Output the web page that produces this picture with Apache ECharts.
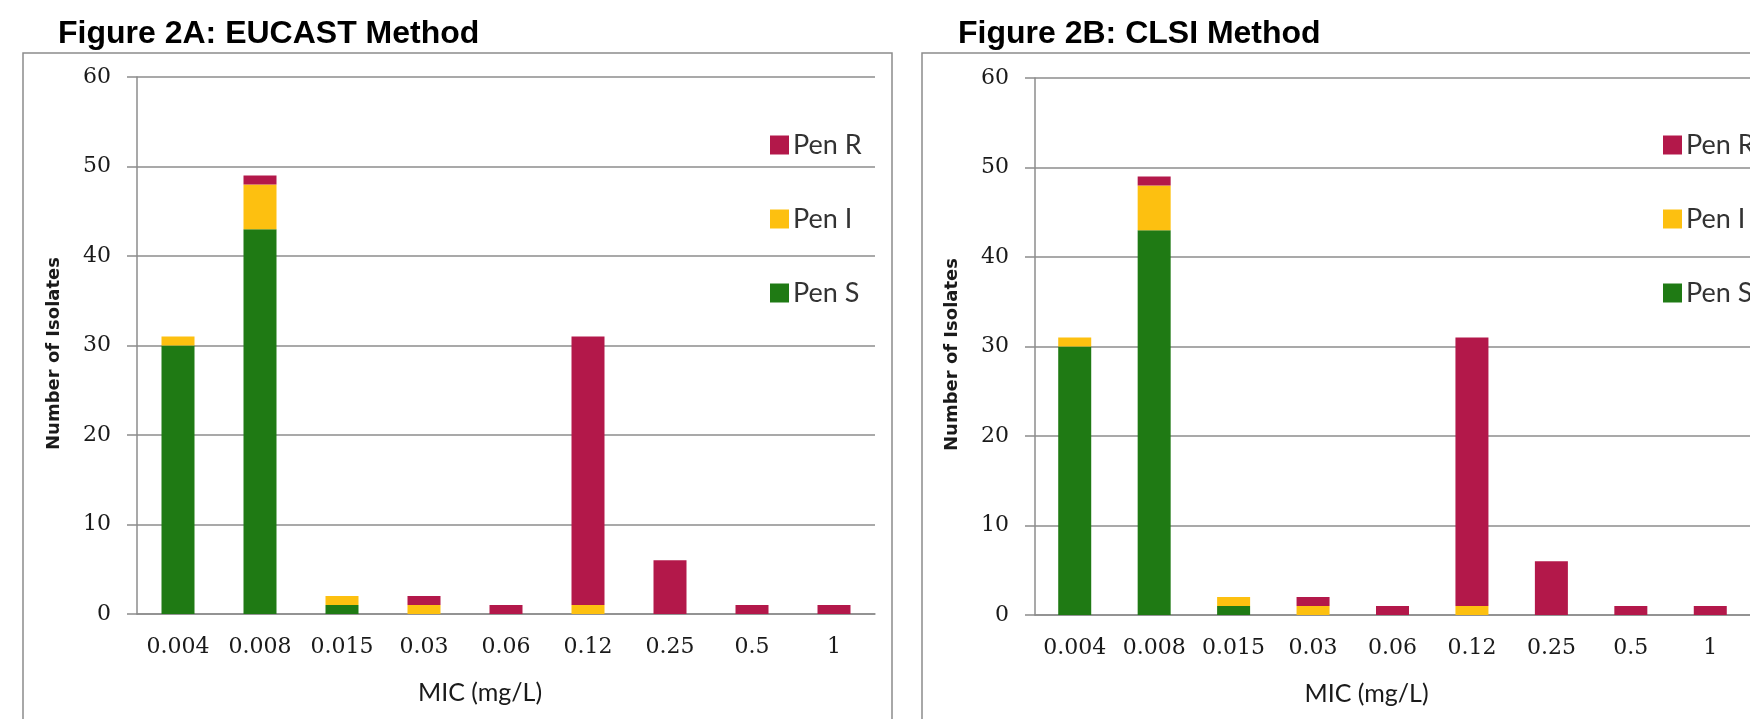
<!DOCTYPE HTML>
<html>
<head>
<meta charset="utf-8">
<title>Figure 2: MIC distribution, EUCAST vs CLSI</title>
<style type="text/css">
html,body{margin:0;padding:0;background:#fff;}
#myChart{width:1750px;height:719px;}
</style>
<script type="text/javascript" src="https://cdn.jsdelivr.net/npm/echarts@6/dist/echarts.min.js"></script>
</head>
<body>
<div id="myChart"></div>
<script type="text/javascript">
// MIC categories (mg/L)
var micLabels = ['0.004', '0.008', '0.015', '0.03', '0.06', '0.12', '0.25', '0.5', '1'];
var yTicks = [0, 10, 20, 30, 40, 50, 60];

// Figure 2A: EUCAST
var eucastS = [30, 43, 1, 0, 0, 0, 0, 0, 0];
var eucastI = [1, 5, 1, 1, 0, 1, 0, 0, 0];
var eucastR = [0, 1, 0, 1, 1, 30, 6, 1, 1];

// Figure 2B: CLSI
var clsiS = [30, 43, 1, 0, 0, 0, 0, 0, 0];
var clsiI = [1, 5, 1, 1, 0, 1, 0, 0, 0];
var clsiR = [0, 1, 0, 1, 1, 30, 6, 1, 1];

var colS = '#1f7a14', colI = '#fdc010', colR = '#b3184a';
var gray = '#8c8c8c';

function xAx(idx) {
    return {
        type: 'category', gridIndex: idx, data: micLabels,
        axisLine: {lineStyle: {color: gray, width: 1.5}},
        axisTick: {length: 9, lineStyle: {color: gray, width: 1.5}},
        axisLabel: {interval: 0, fontFamily: 'DejaVu Serif', fontSize: 22, color: '#1a1a1a', margin: 22},
        name: 'MIC (mg/L)', nameLocation: 'middle', nameGap: 66,
        nameTextStyle: {fontFamily: 'Lato', fontSize: 25, color: '#1a1a1a', padding: [0, 52, 0, 0]}
    };
}
function yAx(idx) {
    return {
        type: 'value', gridIndex: idx, min: yTicks[0], max: yTicks[yTicks.length - 1], interval: 10,
        axisLine: {show: true, lineStyle: {color: gray, width: 1.5}},
        axisTick: {show: true, length: 10, lineStyle: {color: gray, width: 1.5}},
        splitLine: {lineStyle: {color: gray, width: 1.5}},
        axisLabel: {fontFamily: 'DejaVu Serif', fontSize: 22, color: '#1a1a1a', margin: 26},
        name: 'Number of Isolates', nameLocation: 'middle', nameGap: 74,
        nameTextStyle: {fontFamily: 'DejaVu Sans', fontWeight: 'bold', fontSize: 18, color: '#1a1a1a', padding: [0, 16, 0, 0]}
    };
}
function bars(idx, s, i, r) {
    var st = 'st' + idx;
    var base = {type: 'bar', stack: st, xAxisIndex: idx, yAxisIndex: idx, barWidth: 33};
    return [
        Object.assign({name: 'Pen S', data: s, itemStyle: {color: colS}}, base),
        Object.assign({name: 'Pen I', data: i, itemStyle: {color: colI}}, base),
        Object.assign({name: 'Pen R', data: r, itemStyle: {color: colR}}, base)
    ];
}
function leg(left) {
    return {
        orient: 'vertical', left: left, top: 125, itemWidth: 19, itemHeight: 19, itemGap: 44,
        icon: 'rect', selectedMode: false,
        data: ['Pen R', 'Pen I', 'Pen S'],
        textStyle: {fontFamily: 'Lato', fontSize: 27, color: '#333', lineHeight: 30, padding: [0, 0, 0, -1]}
    };
}

var option = {
    animation: false,
    title: [
        {text: 'Figure 2A: EUCAST Method', left: 58, top: 18, padding: 0,
         textStyle: {fontFamily: 'Liberation Sans', fontWeight: 'bold', fontSize: 32, color: '#000'}},
        {text: 'Figure 2B: CLSI Method', left: 958, top: 18, padding: 0,
         textStyle: {fontFamily: 'Liberation Sans', fontWeight: 'bold', fontSize: 32, color: '#000'}}
    ],
    graphic: [
        {type: 'rect', shape: {x: 23, y: 53, width: 869, height: 720}, style: {fill: null, stroke: gray, lineWidth: 1.5}},
        {type: 'rect', shape: {x: 922, y: 53, width: 900, height: 720}, style: {fill: null, stroke: gray, lineWidth: 1.5}}
    ],
    legend: [leg(765), leg(1658)],
    grid: [
        {left: 137, top: 77, width: 738, height: 537},
        {left: 1035, top: 78, width: 739, height: 537}
    ],
    xAxis: [xAx(0), xAx(1)],
    yAxis: [yAx(0), yAx(1)],
    series: bars(0, eucastS, eucastI, eucastR).concat(bars(1, clsiS, clsiI, clsiR))
};

var myChart = echarts.init(document.getElementById('myChart'));
myChart.setOption(option);
</script>
</body>
</html>
